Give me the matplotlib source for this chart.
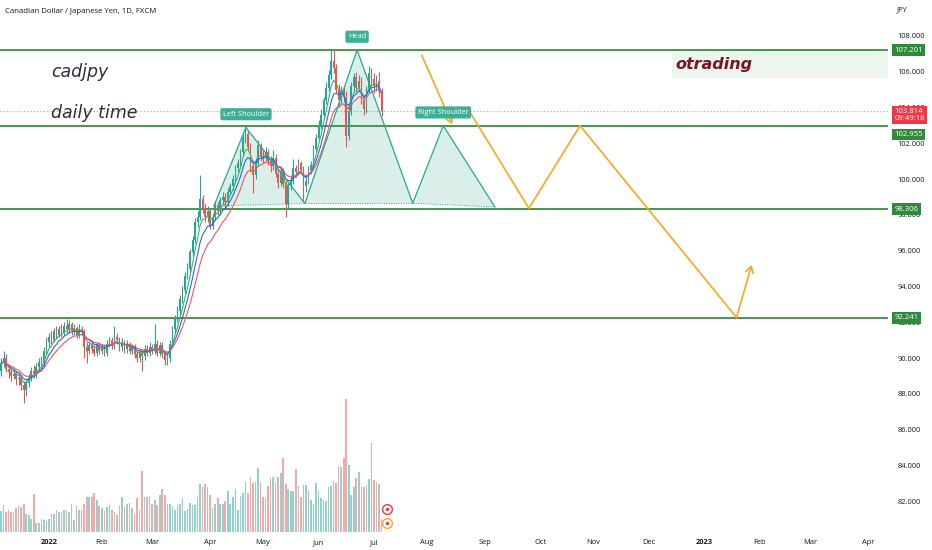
import matplotlib
matplotlib.use("Agg")
import numpy as np
import pandas as pd
import matplotlib.pyplot as plt
import matplotlib.transforms as mtrans
from matplotlib.patches import Rectangle, Polygon

# daily CAD/JPY bars, 2021-12-07 .. 2022-07-06
opens = [
    89.3, 89.7, 90.0, 89.4, 89.2, 89.0, 89.1, 88.8, 88.9, 88.5,
    88.2, 88.6, 88.9, 89.3, 89.1, 89.5, 89.8, 89.7, 90.4, 90.9,
    91.2, 91.0, 91.5, 91.3, 91.6, 91.4, 91.8, 91.6, 91.9, 91.5,
    91.7, 91.3, 91.6, 91.5, 90.6, 90.4, 90.7, 90.5, 90.3, 90.7,
    90.4, 90.6, 90.3, 90.8, 91.0, 90.7, 91.2, 91.0, 90.6, 90.9,
    90.5, 90.8, 90.4, 90.6, 90.2, 90.0, 90.3, 90.1, 90.5, 90.3,
    90.6, 90.4, 90.8, 90.3, 90.7, 90.2, 89.9, 90.0, 90.8, 91.6,
    92.2, 92.6, 93.3, 93.8, 94.6, 95.0, 95.9, 96.6, 97.6, 97.9,
    98.9, 98.4, 97.9, 98.2, 97.4, 97.9, 98.5, 98.2, 98.8, 99.0,
    98.7, 99.3, 99.6, 100.0, 100.6, 100.9, 101.5, 102.3, 102.5, 101.8,
    100.7, 100.2, 100.9, 101.9, 101.3, 101.2, 101.5, 101.0, 100.7, 101.2,
    100.3, 99.8, 100.4, 99.7, 98.6, 99.6, 99.9, 100.6, 100.4, 100.9,
    100.5, 99.6, 99.9, 100.5, 100.8, 101.7, 102.3, 103.0, 103.6, 104.4,
    105.1, 105.8, 106.6, 106.2, 105.0, 104.4, 104.9, 104.6, 102.4, 103.8,
    105.2, 105.7, 105.1, 105.5, 104.4, 103.9, 105.0, 105.9, 105.6, 105.2,
    105.5, 104.9]
highs = [
    90.0, 90.4, 90.2, 89.6, 89.4, 89.4, 89.3, 89.2, 89.1, 88.7,
    88.8, 89.1, 89.5, 89.6, 89.7, 90.0, 90.1, 90.6, 91.2, 91.4,
    91.5, 91.7, 91.8, 91.8, 91.9, 92.0, 92.2, 92.1, 92.0, 91.9,
    91.8, 91.9, 91.8, 91.6, 90.9, 90.9, 90.9, 90.7, 90.9, 90.9,
    90.8, 90.8, 91.0, 91.2, 91.2, 91.8, 91.4, 91.2, 91.1, 91.0,
    91.0, 90.9, 90.8, 90.8, 90.4, 90.5, 90.5, 90.7, 90.7, 90.9,
    90.8, 91.9, 91.0, 90.9, 90.9, 90.4, 90.2, 91.0, 91.8, 92.4,
    92.9, 93.5, 94.0, 94.8, 95.3, 96.1, 96.8, 97.8, 98.2, 100.2,
    99.1, 98.6, 98.5, 98.4, 98.1, 98.7, 98.7, 99.0, 99.3, 99.2,
    99.5, 99.8, 100.2, 100.8, 101.1, 101.7, 102.5, 102.95, 102.7, 102.0,
    101.0, 101.1, 102.2, 102.0, 101.6, 101.8, 101.7, 101.3, 101.6, 101.4,
    100.5, 100.7, 100.6, 99.9, 99.8, 100.2, 101.1, 100.8, 101.1, 101.0,
    100.7, 100.1, 100.7, 101.0, 101.9, 102.5, 103.3, 103.9, 104.6, 105.4,
    106.1, 107.2, 107.2, 106.4, 105.3, 105.2, 105.2, 104.9, 104.1, 105.4,
    105.9, 106.0, 105.8, 105.7, 104.7, 105.2, 106.3, 106.2, 105.9, 105.8,
    106.0, 105.1]
lows = [
    89.0, 89.5, 89.2, 88.9, 88.7, 88.8, 88.5, 88.5, 88.2, 87.5,
    87.9, 88.4, 88.7, 88.9, 88.9, 89.3, 89.4, 89.5, 90.2, 90.6,
    90.8, 90.9, 91.1, 91.2, 91.2, 91.3, 91.4, 91.4, 91.3, 91.3,
    91.1, 91.1, 91.3, 90.0, 89.7, 90.2, 90.3, 90.1, 90.1, 90.2,
    90.2, 90.1, 90.1, 90.6, 90.5, 90.5, 90.8, 90.4, 90.4, 90.3,
    90.3, 90.2, 90.2, 90.0, 89.8, 89.8, 89.3, 89.9, 90.1, 90.1,
    90.2, 90.2, 90.1, 90.1, 90.0, 89.6, 89.6, 89.8, 90.6, 91.4,
    92.0, 92.4, 93.1, 93.6, 94.4, 94.8, 95.7, 96.4, 97.3, 97.7,
    98.1, 97.6, 97.6, 97.2, 97.2, 97.7, 98.0, 98.0, 98.6, 98.4,
    98.5, 99.1, 99.4, 99.8, 100.4, 100.7, 101.3, 102.0, 101.6, 100.4,
    99.2, 100.0, 100.7, 101.0, 100.9, 101.0, 100.8, 100.4, 100.5, 100.1,
    99.5, 99.6, 99.5, 97.9, 98.4, 99.4, 99.7, 100.1, 100.2, 100.3,
    98.7, 99.3, 99.7, 100.3, 100.6, 101.5, 102.1, 102.8, 103.4, 104.2,
    104.9, 105.6, 105.9, 104.8, 104.1, 104.2, 104.3, 101.8, 102.2, 103.6,
    104.9, 104.9, 104.9, 104.2, 103.6, 103.7, 104.8, 105.2, 104.8, 104.9,
    104.6, 103.5]
closes = [
    89.7, 90.0, 89.4, 89.2, 89.0, 89.1, 88.8, 88.9, 88.5, 88.2,
    88.6, 88.9, 89.3, 89.1, 89.5, 89.8, 89.7, 90.4, 90.9, 91.2,
    91.0, 91.5, 91.3, 91.6, 91.4, 91.8, 91.6, 91.9, 91.5, 91.7,
    91.3, 91.6, 91.5, 90.6, 90.4, 90.7, 90.5, 90.3, 90.7, 90.4,
    90.6, 90.3, 90.8, 91.0, 90.7, 91.2, 91.0, 90.6, 90.9, 90.5,
    90.8, 90.4, 90.6, 90.2, 90.0, 90.3, 90.1, 90.5, 90.3, 90.6,
    90.4, 90.8, 90.3, 90.7, 90.2, 89.9, 90.0, 90.8, 91.6, 92.2,
    92.6, 93.3, 93.8, 94.6, 95.0, 95.9, 96.6, 97.6, 97.9, 98.9,
    98.4, 97.9, 98.2, 97.4, 97.9, 98.5, 98.2, 98.8, 99.0, 98.7,
    99.3, 99.6, 100.0, 100.6, 100.9, 101.5, 102.3, 102.5, 101.8, 100.7,
    100.2, 100.9, 101.9, 101.3, 101.2, 101.5, 101.0, 100.7, 101.2, 100.3,
    99.8, 100.4, 99.7, 98.6, 99.6, 99.9, 100.6, 100.4, 100.9, 100.5,
    99.6, 99.9, 100.5, 100.8, 101.7, 102.3, 103.0, 103.6, 104.4, 105.1,
    105.8, 106.6, 106.2, 105.0, 104.4, 104.9, 104.6, 102.4, 103.8, 105.2,
    105.7, 105.1, 105.5, 104.4, 103.9, 105.0, 105.9, 105.6, 105.2, 105.5,
    104.9, 103.814]
volumes = [
    63, 80, 60, 65, 60, 60, 73, 77, 75, 83,
    53, 50, 40, 112, 28, 28, 40, 35, 33, 40,
    53, 53, 65, 60, 60, 67, 67, 60, 85, 37,
    77, 67, 67, 85, 103, 103, 103, 117, 97, 77,
    73, 63, 75, 80, 67, 60, 50, 80, 105, 75,
    85, 87, 73, 53, 100, 65, 183, 103, 103, 107,
    85, 97, 80, 110, 128, 110, 85, 83, 78, 67,
    80, 85, 100, 63, 70, 87, 80, 80, 103, 142,
    135, 143, 135, 110, 73, 83, 100, 83, 85, 92,
    122, 85, 103, 127, 65, 107, 117, 150, 115, 163,
    147, 150, 190, 149, 105, 100, 137, 160, 163, 145,
    163, 175, 220, 143, 127, 123, 122, 187, 137, 105,
    140, 140, 123, 95, 85, 145, 123, 100, 95, 93,
    133, 137, 153, 147, 197, 193, 220, 397, 200, 110,
    135, 160, 180, 135, 133, 140, 157, 267, 155, 150,
    142, 40]

levels = [107.201, 102.955, 98.306, 92.241]
level_label_shift = [0, -6, 0, 0]
last_price = 103.814
countdown = "09:49:18"

# head & shoulders drawing points (bar index, price)
hs_x = [84.5, 97.2, 120.6, 141.3, 163.4, 175.5, 196.0]
hs_y = [98.49, 102.88, 98.63, 107.21, 98.64, 102.98, 98.44]
hs_names = ["Left Shoulder", "Head", "Right Shoulder"]

# orange projection
arrow1_x = [166.5, 179.5]
arrow1_y = [107.06, 102.92]
path_x = [185.4, 209.5, 229.8, 291.9, 297.9]
path_y = [103.89, 98.36, 102.98, 92.26, 95.20]

GREEN = "#26a69a"
RED = "#ef5350"
LVL = "#388e3c"
TEAL = "#22ab94"
SMALL = ["Open Sans", "DejaVu Sans"]

n = len(closes)
idx = np.arange(n)
o = np.array(opens)
c = np.array(closes)
up = c >= o

dates = pd.bdate_range("2021-12-07", periods=360)
tick_pos, tick_lab, tick_bold = [], [], []
for i in range(1, len(dates)):
    if dates[i].month != dates[i - 1].month:
        tick_pos.append(i)
        if dates[i].month == 1:
            tick_lab.append(str(dates[i].year))
            tick_bold.append(True)
        else:
            tick_lab.append(dates[i].strftime("%b"))
            tick_bold.append(False)

fig = plt.figure(figsize=(9.32, 5.5), dpi=100)
fig.patch.set_facecolor("white")
rect = [0, 18 / 550, 888 / 932, 532 / 550]
xlim = (-0.4, 352.0)

# volume underneath
vax = fig.add_axes(rect)
vcol = [GREEN if u else RED for u in up]
vax.bar(idx, volumes, width=0.65, color=vcol, alpha=0.5, linewidth=0)
vax.set_xlim(*xlim)
vax.set_ylim(0, 1588)
vax.axis("off")

ax = fig.add_axes(rect)
ax.patch.set_alpha(0)
ax.set_xlim(*xlim)
ax.set_ylim(80.28, 110.0)
for s in ax.spines.values():
    s.set_visible(False)

# candles
col = np.where(up, GREEN, RED)
ax.vlines(idx, lows, highs, colors=col, linewidth=0.8, zorder=3)
body = np.maximum(np.abs(c - o), 0.04)
ax.bar(idx, body, bottom=np.minimum(o, c), width=0.65, color=col, linewidth=0, zorder=4)

# moving averages
cs = pd.Series(closes)
for span, colr in [(5, "#4caf50"), (8, "#2962ff"), (13, "#f7525f")]:
    ax.plot(idx, cs.ewm(span=span, adjust=False).mean(), color=colr, lw=0.8, zorder=5)

# horizontal levels
for lv in levels:
    ax.axhline(lv, color=LVL, lw=1.3, zorder=2)
ax.axhline(last_price, color=RED, lw=0.8, ls=(0, (1, 2)), alpha=0.7, zorder=2)

# head & shoulders
fill = "#cfeae4"
for a, b, d in [(0, 1, 2), (2, 3, 4), (4, 5, 6)]:
    ax.add_patch(Polygon([(hs_x[a], hs_y[a]), (hs_x[b], hs_y[b]), (hs_x[d], hs_y[d])],
                         closed=True, facecolor=fill, edgecolor="none", alpha=0.75, zorder=1))
ax.plot(hs_x, hs_y, color=TEAL, lw=0.9, zorder=6)
ax.plot([hs_x[0], hs_x[2], hs_x[4], hs_x[6]], [hs_y[0], hs_y[2], hs_y[4], hs_y[6]],
        color=TEAL, lw=0.7, ls=(0, (1, 1.5)), zorder=6)
for name, k in zip(hs_names, [1, 3, 5]):
    ax.annotate(name, (hs_x[k], hs_y[k]), xytext=(0, 7), textcoords="offset points",
                ha="center", va="bottom", fontsize=5.3, color="white", family=SMALL,
                bbox=dict(boxstyle="round,pad=0.35,rounding_size=0.25", fc="#3fae95", ec="none"),
                zorder=8)

# orange projection
ORANGE = "#ffa51f"
ax.annotate("", xy=(arrow1_x[1], arrow1_y[1]), xytext=(arrow1_x[0], arrow1_y[0]),
            arrowprops=dict(arrowstyle="->,head_length=0.4,head_width=0.25", color=ORANGE, lw=1.2),
            zorder=7)
ax.plot(path_x[:-1], path_y[:-1], color=ORANGE, lw=1.2, zorder=7)
ax.annotate("", xy=(path_x[-1], path_y[-1]), xytext=(path_x[-2], path_y[-2]),
            arrowprops=dict(arrowstyle="->,head_length=0.45,head_width=0.28", color=ORANGE, lw=1.2,
                            shrinkA=0, shrinkB=0), zorder=7)

# texts on chart
ax.text(0.006, 0.979, "Canadian Dollar / Japanese Yen, 1D, FXCM", transform=ax.transAxes,
        fontsize=5.6, color="#131722", family=SMALL, va="center", ha="left")
ax.text(51 / 888, 1 - 72 / 532, "cadjpy", transform=ax.transAxes, fontsize=12.5,
        style="italic", color="#2a2e39", va="center", ha="left")
ax.text(51 / 888, 1 - 113 / 532, "daily time", transform=ax.transAxes, fontsize=12.5,
        style="italic", color="#2a2e39", va="center", ha="left")
ax.add_patch(Rectangle((266.3, 105.64), 352.0 - 266.3, 1.45, facecolor="#edf6ee",
                       edgecolor="none", zorder=1))
ax.text(267.5, 106.4, "otrading", fontsize=11.5, style="italic", weight="bold",
        color="#7b1424", va="center", ha="left", zorder=8)

# axes labels
ax.yaxis.tick_right()
yt = np.arange(82, 110, 2)
ax.set_yticks(yt)
ax.set_yticklabels(["%.3f" % v for v in yt], fontsize=5.4, color="#131722", family=SMALL)
ax.tick_params(axis="y", length=0, pad=7)
ax.set_xticks(tick_pos)
ax.set_xticklabels(tick_lab, fontsize=5.4, color="#131722", family=SMALL)
for lab, b in zip(ax.get_xticklabels(), tick_bold):
    if b:
        lab.set_fontweight("bold")
ax.tick_params(axis="x", length=0, pad=5)
fig.text(897 / 932, 1 - 10 / 550, "JPY", fontsize=5.4, color="#131722", family=SMALL,
         va="center", ha="left")

# price boxes on the right scale
bt = mtrans.blended_transform_factory(ax.transAxes, ax.transData)
for lv, sh in zip(levels, level_label_shift):
    ax.annotate("%.3f" % lv, (1.004, lv), xycoords=bt, xytext=(2, sh), textcoords="offset points",
                fontsize=5.6, color="white", family=SMALL, va="center", ha="left",
                bbox=dict(boxstyle="square,pad=0.3", fc="#2e8b3a", ec="none"),
                annotation_clip=False, zorder=9)
ax.annotate("%.3f\n%s" % (last_price, countdown), (1.004, last_price), xycoords=bt,
            xytext=(2, -3), textcoords="offset points", fontsize=5.6, color="white",
            family=SMALL, va="center", ha="left", linespacing=1.0,
            bbox=dict(boxstyle="square,pad=0.3", fc="#f23645", ec="none"),
            annotation_clip=False, zorder=10)

# event markers near the last bar
bx = mtrans.blended_transform_factory(ax.transData, ax.transAxes)
ax.plot([153], [0.043], transform=bx, ls="none", marker="o", ms=7,
        mfc="white", mec="#f23645", mew=1.0, zorder=9, clip_on=False)
ax.plot([153], [0.017], transform=bx, ls="none", marker="o", ms=7,
        mfc="white", mec="#ffa726", mew=1.0, zorder=9, clip_on=False)
ax.plot([153, 153], [0.043, 0.017], transform=bx, ls="none", marker="o", ms=2.5,
        mfc="#f23645", mec="none", zorder=10, clip_on=False)

fig.savefig("out.png", dpi=100)
